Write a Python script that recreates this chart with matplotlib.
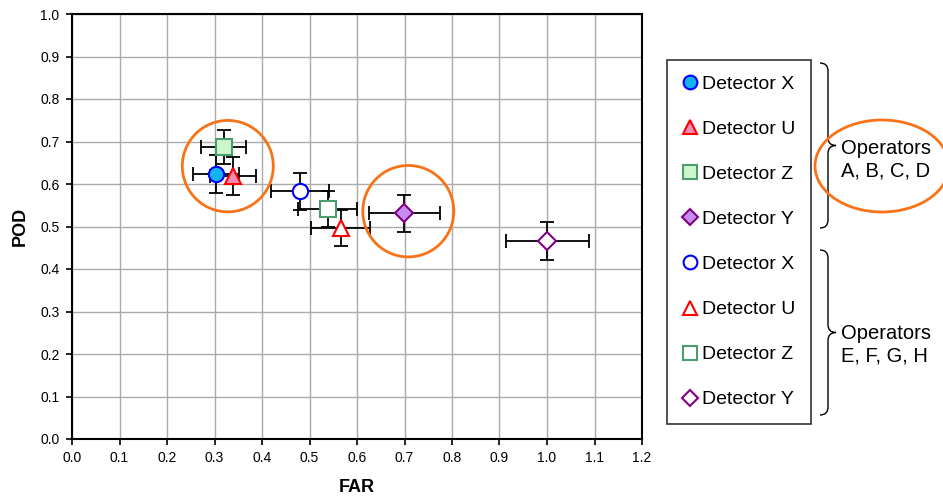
import matplotlib
matplotlib.use("Agg")
import matplotlib.pyplot as plt
from matplotlib.patches import Ellipse, PathPatch
from matplotlib.path import Path
from matplotlib.lines import Line2D
import numpy as np

plt.rcParams['font.family'] = ['Liberation Sans', 'DejaVu Sans']

# data: operators A-D (filled) then E-H (open)
labels = ['Detector X', 'Detector U', 'Detector Z', 'Detector Y',
          'Detector X', 'Detector U', 'Detector Z', 'Detector Y']
far = [0.303, 0.339, 0.319, 0.700, 0.480, 0.566, 0.538, 1.001]
pod = [0.624, 0.619, 0.688, 0.531, 0.583, 0.496, 0.541, 0.466]
far_err = [0.049, 0.049, 0.048, 0.074, 0.062, 0.062, 0.063, 0.088]
pod_err = [0.044, 0.045, 0.040, 0.044, 0.043, 0.043, 0.043, 0.044]
groups = ['Operators\nA, B, C, D', 'Operators\nE, F, G, H']

markers = ['o', '^', 's', 'D', 'o', '^', 's', 'D']
edges = ['#0000ff', '#ff0000', '#4a9e6e', '#800080'] * 2
faces = ['#14b4f0', '#f48cb4', '#ccf5cc', '#c68cf0'] + ['white'] * 4
sizes = [11, 11, 11, 9, 11, 11, 11, 9]

fig = plt.figure(figsize=(9.43, 5.04), dpi=100)
ax = fig.add_axes([72/943, 1-439/504, 570/943, 425/504])

ax.errorbar(far, pod, xerr=far_err, yerr=pod_err, fmt='none', ecolor='black',
            elinewidth=1.3, capsize=5, capthick=1.3, zorder=3)
handles = []
for i in range(len(far)):
    h, = ax.plot(far[i], pod[i], marker=markers[i], ms=sizes[i], mfc=faces[i],
                 mec=edges[i], mew=1.5, ls='none', zorder=4, label=labels[i])
    handles.append(h)

# highlight circles (round in pixels)
for cx, cy in [(0.328, 0.642), (0.708, 0.536)]:
    ax.add_patch(Ellipse((cx, cy), 91/475, 91/423, fill=False, ec='#f87217', lw=2, zorder=5))

ax.set_xlim(0, 1.2)
ax.set_ylim(0, 1.0)
ax.set_xticks(np.arange(0, 1.21, 0.1))
ax.set_yticks(np.arange(0, 1.01, 0.1))
ax.xaxis.set_major_formatter(plt.FormatStrFormatter('%.1f'))
ax.yaxis.set_major_formatter(plt.FormatStrFormatter('%.1f'))
ax.tick_params(labelsize=10, length=4, width=1.2, direction='out', pad=5)
ax.grid(True, color='#ababab', lw=1)
ax.set_axisbelow(True)
for s in ax.spines.values():
    s.set_linewidth(1.5)
ax.set_xlabel('FAR', fontsize=13, fontweight='bold', labelpad=10)
ax.set_ylabel('POD', fontsize=13, fontweight='bold', labelpad=8)

# legend box
leg = fig.legend(handles=[Line2D([], [], marker=h.get_marker(), ms=h.get_markersize()*0.9,
                                 mfc=h.get_markerfacecolor(), mec=h.get_markeredgecolor(),
                                 mew=1.5, ls='none') for h in handles],
                 labels=labels, loc='upper left', bbox_to_anchor=(667/943, 1-60/504),
                 fontsize=14, frameon=True, fancybox=False, edgecolor='black',
                 handlelength=0.8, handletextpad=0.2, labelspacing=1.41,
                 borderpad=0.8, borderaxespad=0)
leg.get_frame().set_linewidth(1.2)


def brace(x, y0, y1, w):
    # curly brace opening to the right, in pixel coords (top-down y)
    H = 504.0
    ym = (y0 + y1) / 2
    pts = [(x, y0), (x + w/2, y0), (x + w/2, y0 + 8),
           (x + w/2, ym - 8), (x + w/2, ym), (x + w, ym),
           (x + w/2, ym), (x + w/2, ym + 8),
           (x + w/2, y1 - 8), (x + w/2, y1), (x, y1)]
    codes = [Path.MOVETO, Path.CURVE3, Path.CURVE3,
             Path.LINETO, Path.CURVE3, Path.CURVE3,
             Path.CURVE3, Path.CURVE3,
             Path.LINETO, Path.CURVE3, Path.CURVE3]
    verts = [(px/943, 1 - py/H) for px, py in pts]
    fig.add_artist(PathPatch(Path(verts, codes), fill=False, ec='black', lw=1,
                             transform=fig.transFigure))

brace(820, 63, 228, 16)
brace(820, 250, 415, 16)
fig.text(841/943, 1-160/504, groups[0], fontsize=14.5, va='center', ha='left', linespacing=1.25)
fig.text(841/943, 1-345/504, groups[1], fontsize=14.5, va='center', ha='left', linespacing=1.25)
fig.add_artist(Ellipse((882/943, 1-166/504), 134/943, 92/504, fill=False, ec='#f87217',
                       lw=2, transform=fig.transFigure))

fig.savefig('out.png', dpi=100)
